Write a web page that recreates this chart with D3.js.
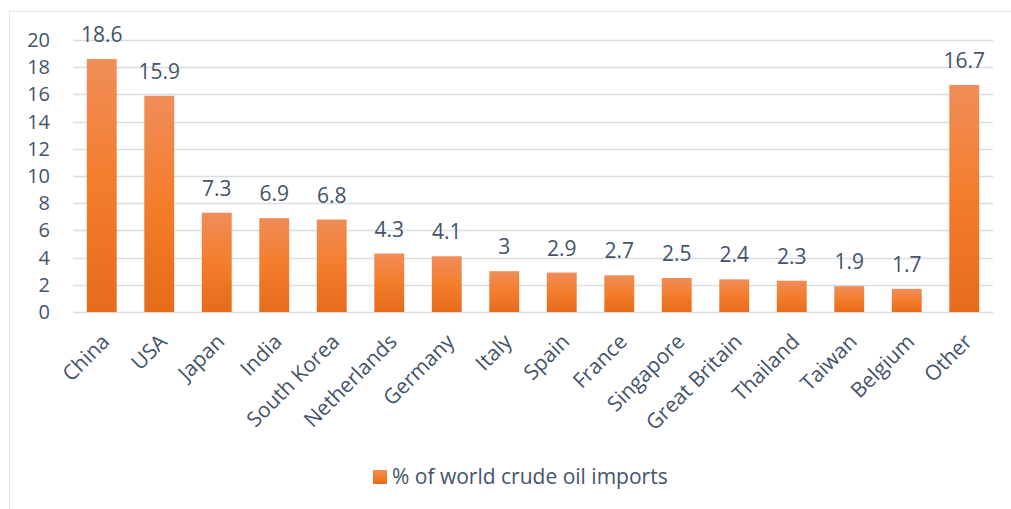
<!DOCTYPE html>
<html>
<head>
<meta charset="utf-8">
<script src="https://cdn.jsdelivr.net/npm/d3@7"></script>
<style>
  body { margin: 0; background: #fff; }
  text { font-family: "Open Sans", sans-serif; fill: #44546a; }
</style>
</head>
<body>
<script>
// chart values
const countries = ["China", "USA", "Japan", "India", "South Korea", "Netherlands", "Germany",
  "Italy", "Spain", "France", "Singapore", "Great Britain", "Thailand", "Taiwan", "Belgium", "Other"];
const shares = [18.6, 15.9, 7.3, 6.9, 6.8, 4.3, 4.1, 3, 2.9, 2.7, 2.5, 2.4, 2.3, 1.9, 1.7, 16.7];
const yTicks = [0, 2, 4, 6, 8, 10, 12, 14, 16, 18, 20];
const seriesName = "% of world crude oil imports";

const width = 1011;
const height = 509;

const svg = d3.select("body")
  .append("svg")
  .attr("width", width)
  .attr("height", height);

const defs = svg.append("defs");
const grad = defs.append("linearGradient")
  .attr("id", "barGrad")
  .attr("x1", 0).attr("y1", 0).attr("x2", 0).attr("y2", 1);
grad.append("stop").attr("offset", "0%").attr("stop-color", "#f08d58");
grad.append("stop").attr("offset", "50%").attr("stop-color", "#f47d2c");
grad.append("stop").attr("offset", "100%").attr("stop-color", "#e46c1b");

// chart frame (only top and left edges show in the picture)
svg.append("rect")
  .attr("x", 9.5).attr("y", 11.5)
  .attr("width", 1100).attr("height", 600)
  .attr("fill", "none")
  .attr("stroke", "#dfe4ea");

const x = d3.scaleBand()
  .domain(countries)
  .range([73, 993])
  .paddingInner(0.48)
  .paddingOuter(0.24);

const y = d3.scaleLinear()
  .domain([0, 20])
  .range([312, 40]);

// gridlines
svg.append("g")
  .selectAll("line")
  .data(yTicks)
  .enter().append("line")
  .attr("x1", 73)
  .attr("x2", 993)
  .attr("y1", d => Math.round(y(d)) + 0.5)
  .attr("y2", d => Math.round(y(d)) + 0.5)
  .attr("stroke", "#d9dee5")
  .attr("stroke-width", 1.5);

// y axis labels
const yAxis = d3.axisLeft(y)
  .tickValues(yTicks)
  .tickSize(0)
  .tickPadding(0);
svg.append("g")
  .attr("transform", "translate(50, 0)")
  .call(yAxis)
  .call(g => g.select(".domain").remove())
  .selectAll("text")
  .attr("font-size", 20)
  .attr("font-family", "Open Sans, sans-serif")
  .attr("fill", "#44546a");

// bars
svg.append("g")
  .selectAll("rect")
  .data(shares)
  .enter().append("rect")
  .attr("x", (d, i) => x(countries[i]))
  .attr("y", d => y(d))
  .attr("width", x.bandwidth())
  .attr("height", d => y(0) - y(d))
  .attr("fill", "url(#barGrad)");

// value labels
svg.append("g")
  .selectAll("text")
  .data(shares)
  .enter().append("text")
  .attr("x", (d, i) => x(countries[i]) + x.bandwidth() / 2)
  .attr("y", d => y(d) - 17)
  .attr("text-anchor", "middle")
  .attr("font-size", 21)
  .text(d => d);

// category labels
const xAxis = d3.axisBottom(x)
  .tickSize(0)
  .tickPadding(0);
svg.append("g")
  .attr("transform", "translate(0, 312)")
  .call(xAxis)
  .call(g => g.select(".domain").remove())
  .selectAll("text")
  .attr("font-size", 21)
  .attr("font-family", "Open Sans, sans-serif")
  .attr("fill", "#44546a")
  .attr("text-anchor", "end")
  .attr("dy", null)
  .attr("y", 0)
  .attr("transform", "translate(9, 31) rotate(-45)");

// legend
const legend = svg.append("g").attr("transform", "translate(373, 470)");
legend.append("rect")
  .attr("width", 14).attr("height", 14)
  .attr("fill", "url(#barGrad)");
legend.append("text")
  .attr("x", 19)
  .attr("y", 14)
  .attr("font-size", 21)
  .text(seriesName);
</script>
</body>
</html>
